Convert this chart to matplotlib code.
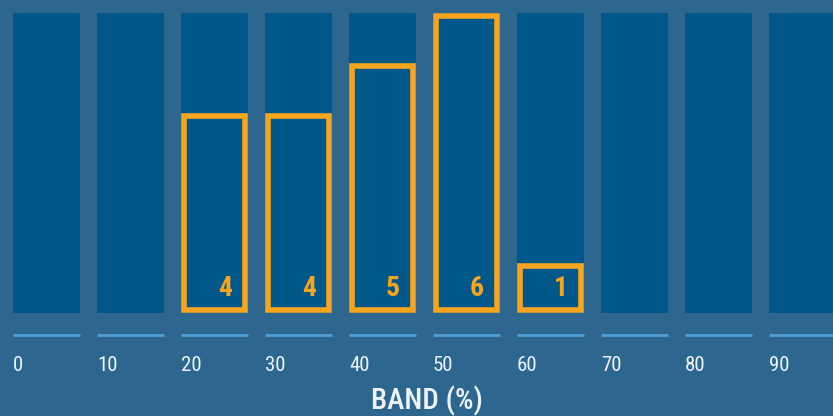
import matplotlib
matplotlib.use("Agg")
import matplotlib.pyplot as plt
from matplotlib import font_manager

# ---- data ----
categories = [0, 10, 20, 30, 40, 50, 60, 70, 80, 90]
values = [0, 0, 4, 4, 5, 6, 1, 0, 0, 0]
tick_labels = ["0", "10", "20", "30", "40", "50", "60", "70", "80", "90"]
x_label = "BAND (%)"

# ---- styles ----
BG = "#2d668f"
COL = "#00588a"
ORANGE = "#f7a51d"
LINE = "#4f9fd6"
TEXT = "#eef3f8"

names = {f.name for f in font_manager.fontManager.ttflist}
stretch = "normal"
if "Roboto Condensed" in names:
    FAM = "Roboto Condensed"
elif "Liberation Sans Narrow" in names:
    FAM = "Liberation Sans Narrow"
elif any(f.name == "DejaVu Sans" and f.stretch == "condensed" for f in font_manager.fontManager.ttflist):
    FAM = "DejaVu Sans"
    stretch = "condensed"
else:
    FAM = "Roboto"

W, H, DPI = 833, 416, 100
fig = plt.figure(figsize=(W / DPI, H / DPI), dpi=DPI, facecolor=BG)
bottom_px = 313
ax = fig.add_axes([0, (H - bottom_px) / H, 1, bottom_px / H])
ax.set_facecolor(BG)

px_per_x = 8.4
px_per_y = 50.0
left_px = 13
ax.set_xlim(-left_px / px_per_x, (W - left_px) / px_per_x)
ax.set_ylim(0, bottom_px / px_per_y)

bar_w = 8
vmax = max(values)
ax.bar(categories, [vmax] * len(categories), width=bar_w, align="edge",
       color=COL, linewidth=0, zorder=1)

lw_px = 5.6
hx = lw_px / 2 / px_per_x
hy = lw_px / 2 / px_per_y
for c, v in zip(categories, values):
    if v <= 0:
        continue
    ax.bar(c + hx, v - 2 * hy, bottom=hy, width=bar_w - 2 * hx, align="edge",
           facecolor="none", edgecolor=ORANGE, linewidth=lw_px * 72 / DPI,
           joinstyle="miter", zorder=2)
    ax.text(c + bar_w - 16.5 / px_per_x, 17 / px_per_y, str(v), ha="right", va="baseline",
            color=ORANGE, fontsize=20, fontweight="bold", family=FAM,
            fontstretch=stretch, zorder=3)

ax.hlines([-22 / px_per_y] * len(categories), categories,
          [c + bar_w for c in categories], colors=LINE, linewidth=2.0,
          clip_on=False, zorder=2)

ax.set_xticks(categories)
ax.set_xticklabels(tick_labels, ha="left", color=TEXT, fontsize=15,
                   family=FAM, fontstretch=stretch)
ax.tick_params(axis="x", length=0, pad=31)
ax.set_yticks([])
for s in ax.spines.values():
    s.set_visible(False)

ax.set_xlabel(x_label, color=TEXT, fontsize=21, family=FAM,
              fontstretch=stretch, fontweight="medium")
ax.xaxis.set_label_coords(427 / W, -(401 - bottom_px) / bottom_px)
ax.xaxis.label.set_va("center")

fig.savefig("out.png", dpi=DPI, facecolor=BG)
